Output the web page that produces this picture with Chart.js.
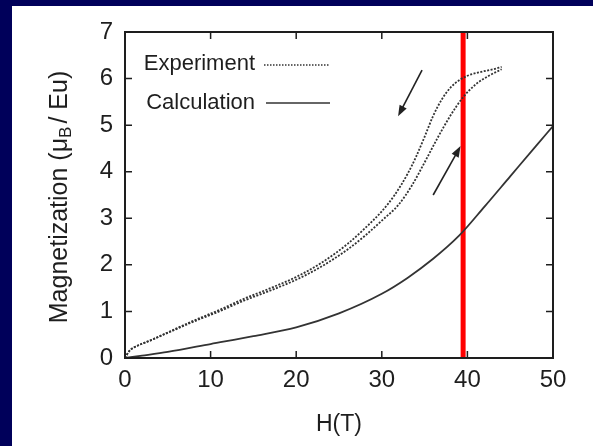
<!DOCTYPE html>
<html lang="en">
<head>
    <meta charset="UTF-8">
    <title>Magnetization vs field</title>
    <script src="https://cdn.jsdelivr.net/npm/chart.js"></script>
    <style>
        html, body { margin: 0; padding: 0; background: #00005a; }
        body { width: 593px; height: 446px; position: relative; overflow: hidden; }
        #wrap { position: absolute; left: 0; top: 0; width: 593px; height: 446px; }
    </style>
</head>
<body>
    <div id="wrap"><canvas id="magChart"></canvas></div>
    <script>
        // field sweep up (lower branch)
        const hUp = [0, 0.5, 1, 3, 5, 8, 11, 14, 17, 20, 23, 26, 28, 30, 32, 33.5, 35, 36.5, 38, 39.5, 41, 42.5, 44];
        const mUp = [0, 0.15, 0.22, 0.38, 0.54, 0.78, 1.0, 1.24, 1.45, 1.68, 1.97, 2.33, 2.62, 2.95, 3.3, 3.7, 4.2, 4.72, 5.2, 5.6, 5.88, 6.06, 6.2];
        // field sweep down (upper branch)
        const hDown = [0, 0.5, 1, 3, 5, 8, 11, 14, 17, 20, 23, 26, 28, 30, 31.5, 33, 34, 35, 36, 37, 38, 39, 40, 41.5, 43, 44];
        const mDown = [0, 0.15, 0.22, 0.38, 0.55, 0.8, 1.03, 1.28, 1.5, 1.74, 2.05, 2.45, 2.78, 3.15, 3.5, 3.95, 4.32, 4.75, 5.2, 5.55, 5.8, 5.96, 6.06, 6.14, 6.2, 6.25];
        // calculated curve
        const hCalc = [0, 2, 5, 10, 15, 20, 25, 30, 33, 36, 39, 42, 45, 48, 50];
        const mCalc = [0, 0.05, 0.13, 0.3, 0.47, 0.66, 0.96, 1.38, 1.72, 2.13, 2.62, 3.25, 3.9, 4.55, 4.98];
        // red marker line
        const markerH = [39.5, 39.5];
        const markerM = [0, 7];
        // sweep direction arrows [h0, m0, h1, m1]
        const arrowDown = [34.7, 6.18, 31.9, 5.19];
        const arrowUp = [36.0, 3.5, 39.2, 4.55];

        const xTicks = [0, 10, 20, 30, 40, 50];
        const yTicks = [0, 1, 2, 3, 4, 5, 6, 7];

        const ink = '#1e1e1e';
        const font = '"Liberation Sans", Arial, sans-serif';

        function pts(xs, ys) {
            return xs.map((x, i) => ({ x: x, y: ys[i] }));
        }

        const lineStyle = {
            showLine: true,
            pointRadius: 0,
            fill: false,
            cubicInterpolationMode: 'monotone'
        };

        // white panel inside the dark page edges
        const panel = {
            id: 'panel',
            beforeDraw(chart) {
                const ctx = chart.ctx;
                ctx.save();
                ctx.fillStyle = '#ffffff';
                ctx.fillRect(12, 6, chart.width - 12, chart.height - 6);
                ctx.restore();
            }
        };

        // frame, inward ticks, arrows, legend and y title
        const decorations = {
            id: 'decorations',
            afterDraw(chart) {
                const ctx = chart.ctx;
                const a = chart.chartArea;
                const xs = chart.scales.x;
                const ys = chart.scales.y;
                ctx.save();
                ctx.strokeStyle = ink;
                ctx.lineWidth = 2;
                ctx.strokeRect(a.left, a.top, a.right - a.left, a.bottom - a.top);

                ctx.lineWidth = 1.5;
                ctx.beginPath();
                xTicks.forEach(v => {
                    const px = xs.getPixelForValue(v);
                    ctx.moveTo(px, a.bottom); ctx.lineTo(px, a.bottom - 7);
                    ctx.moveTo(px, a.top); ctx.lineTo(px, a.top + 7);
                });
                yTicks.forEach(v => {
                    const py = ys.getPixelForValue(v);
                    ctx.moveTo(a.left, py); ctx.lineTo(a.left + 7, py);
                    ctx.moveTo(a.right, py); ctx.lineTo(a.right - 7, py);
                });
                ctx.stroke();

                // arrows
                [arrowDown, arrowUp].forEach(arr => {
                    const x0 = xs.getPixelForValue(arr[0]);
                    const y0 = ys.getPixelForValue(arr[1]);
                    const x1 = xs.getPixelForValue(arr[2]);
                    const y1 = ys.getPixelForValue(arr[3]);
                    const ang = Math.atan2(y1 - y0, x1 - x0);
                    ctx.strokeStyle = '#222';
                    ctx.fillStyle = '#222';
                    ctx.lineWidth = 1.6;
                    ctx.beginPath();
                    ctx.moveTo(x0, y0);
                    ctx.lineTo(x1 - 6 * Math.cos(ang), y1 - 6 * Math.sin(ang));
                    ctx.stroke();
                    ctx.beginPath();
                    ctx.moveTo(x1, y1);
                    ctx.lineTo(x1 - 11 * Math.cos(ang) + 4 * Math.sin(ang), y1 - 11 * Math.sin(ang) - 4 * Math.cos(ang));
                    ctx.lineTo(x1 - 11 * Math.cos(ang) - 4 * Math.sin(ang), y1 - 11 * Math.sin(ang) + 4 * Math.cos(ang));
                    ctx.closePath();
                    ctx.fill();
                });

                // legend
                ctx.fillStyle = ink;
                ctx.font = '22px ' + font;
                ctx.textAlign = 'right';
                ctx.textBaseline = 'middle';
                ctx.fillText('Experiment', 255, 64);
                ctx.fillText('Calculation', 255, 103);
                ctx.strokeStyle = '#333';
                ctx.lineWidth = 1.4;
                ctx.setLineDash([1.5, 1.5]);
                ctx.beginPath();
                ctx.moveTo(264, 65); ctx.lineTo(330, 65);
                ctx.stroke();
                ctx.setLineDash([]);
                ctx.lineWidth = 1.6;
                ctx.beginPath();
                ctx.moveTo(266, 103); ctx.lineTo(330, 103);
                ctx.stroke();

                // y axis title with subscript
                ctx.translate(60, 197);
                ctx.rotate(-Math.PI / 2);
                const p1 = 'Magnetization (\u03bc';
                const sub = 'B';
                const p2 = '/ Eu)';
                ctx.font = '25px ' + font;
                const w1 = ctx.measureText(p1).width;
                const w3 = ctx.measureText(p2).width;
                ctx.font = '17px ' + font;
                const w2 = ctx.measureText(sub).width + 3;
                const total = w1 + w2 + w3;
                let cx = -total / 2;
                ctx.textAlign = 'left';
                ctx.font = '25px ' + font;
                ctx.fillText(p1, cx, 0);
                cx += w1;
                ctx.font = '17px ' + font;
                ctx.fillText(sub, cx, 6);
                cx += w2;
                ctx.font = '25px ' + font;
                ctx.fillText(p2, cx, 0);
                ctx.restore();
            }
        };

        new Chart(document.getElementById('magChart'), {
            type: 'scatter',
            data: {
                datasets: [
                    Object.assign({ label: 'Experiment (up)', data: pts(hUp, mUp), borderColor: '#333', borderWidth: 1.8, borderDash: [2, 1.5] }, lineStyle),
                    Object.assign({ label: 'Experiment (down)', data: pts(hDown, mDown), borderColor: '#333', borderWidth: 1.8, borderDash: [2, 1.5] }, lineStyle),
                    Object.assign({ label: 'Calculation', data: pts(hCalc, mCalc), borderColor: '#333', borderWidth: 1.8 }, lineStyle),
                    Object.assign({ label: 'Marker', data: pts(markerH, markerM), borderColor: '#ff0000', borderWidth: 5 }, lineStyle, { cubicInterpolationMode: 'default', tension: 0 })
                ]
            },
            options: {
                responsive: true,
                maintainAspectRatio: false,
                animation: false,
                layout: { padding: { left: 0, right: 40, top: 32, bottom: 0 } },
                plugins: {
                    legend: { display: false },
                    tooltip: { enabled: false }
                },
                scales: {
                    x: {
                        type: 'linear',
                        min: 0,
                        max: 50,
                        afterFit: s => { s.height = 88; },
                        afterBuildTicks: s => { s.ticks = xTicks.map(v => ({ value: v })); },
                        grid: { display: false, drawTicks: false },
                        border: { display: false },
                        ticks: { color: ink, padding: 8, maxRotation: 0, font: { family: font, size: 24 } },
                        title: { display: true, text: 'H(T)', color: ink, padding: { top: 8, bottom: 8 }, font: { family: font, size: 23 } }
                    },
                    y: {
                        type: 'linear',
                        min: 0,
                        max: 7,
                        afterFit: s => { s.width = 125; },
                        afterBuildTicks: s => { s.ticks = yTicks.map(v => ({ value: v })); },
                        grid: { display: false, drawTicks: false },
                        border: { display: false },
                        ticks: { color: ink, padding: 12, font: { family: font, size: 24 } }
                    }
                }
            },
            plugins: [panel, decorations]
        });
    </script>
</body>
</html>
